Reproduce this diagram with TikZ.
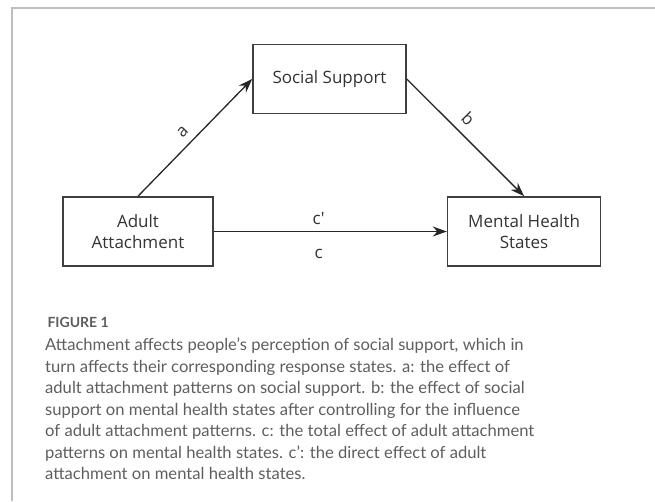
\documentclass[tikz,border=0pt]{standalone}
\usepackage{fontspec}
\setmainfont{Open Sans}
\newfontfamily\capfont{Lato}
\usetikzlibrary{arrows.meta,positioning}
\definecolor{boxline}{HTML}{3A3F45}
\definecolor{capgray}{HTML}{5E5E5E}
\definecolor{framegray}{HTML}{BEBEBE}
\tikzset{
    %Define standard arrow tip
    >={Stealth[length=14pt,width=10pt]},
    box/.style={
      rectangle,
      draw=boxline, line width=1.6pt,
      minimum width=153pt,
      minimum height=69pt,
      align=center,
      text=black!80,
      font=\fontsize{17}{20.5}\selectfont},
    pathlbl/.style={
      text=black!80,
      font=\fontsize{17}{20.5}\selectfont},
    link/.style={
      ->,
      draw=black!85, line width=1.3pt}
}

\begin{document}
\begin{tikzpicture}[x=1pt,y=-1pt]
    \useasboundingbox (0,0) rectangle (655,501);
    \draw [framegray, line width=1.2pt] (655,8) -- (12,8) -- (12,501);
    \node (aa) [box, minimum width=150pt] at (138,231.5)
          {Adult\\Attachment};
    \node (mh) [box] [right=233pt of aa]
          {Mental Health\\States};
    \node (ss) [box] at (329.5,79)
          {Social Support};
    \draw [link] (aa.north) -- node [pathlbl, sloped, above=4pt, pos=0.47] {a} (ss.west);
    \draw [link] (ss.east) -- node [pathlbl, sloped, above=5pt, pos=0.43] {b} (mh.north);
    \draw [link] (aa.east) -- node [pathlbl, pos=0.45, anchor=base, yshift=7pt] {c\textquotesingle}
                              node [pathlbl, pos=0.45, anchor=base, yshift=-27pt] {c} (mh.west);
    % caption
    \node (fig) [anchor=base west, text=capgray, font=\capfont\bfseries\fontsize{14}{16}\selectfont]
          at (44,327) {FIGURE 1};
    \node (cap) [anchor=north west, inner sep=0pt, align=left, text=capgray,
                 font=\capfont\fontsize{16.6}{21.5}\selectfont] at (45,338)
          {Attachment affects people’s perception of social support, which in\\
           turn affects their corresponding response states. a: the effect of\\
           adult attachment patterns on social support. b: the effect of social\\
           support on mental health states after controlling for the influence\\
           of adult attachment patterns. c: the total effect of adult attachment\\
           patterns on mental health states. c’: the direct effect of adult\\
           attachment on mental health states.};
\end{tikzpicture}
\end{document}
